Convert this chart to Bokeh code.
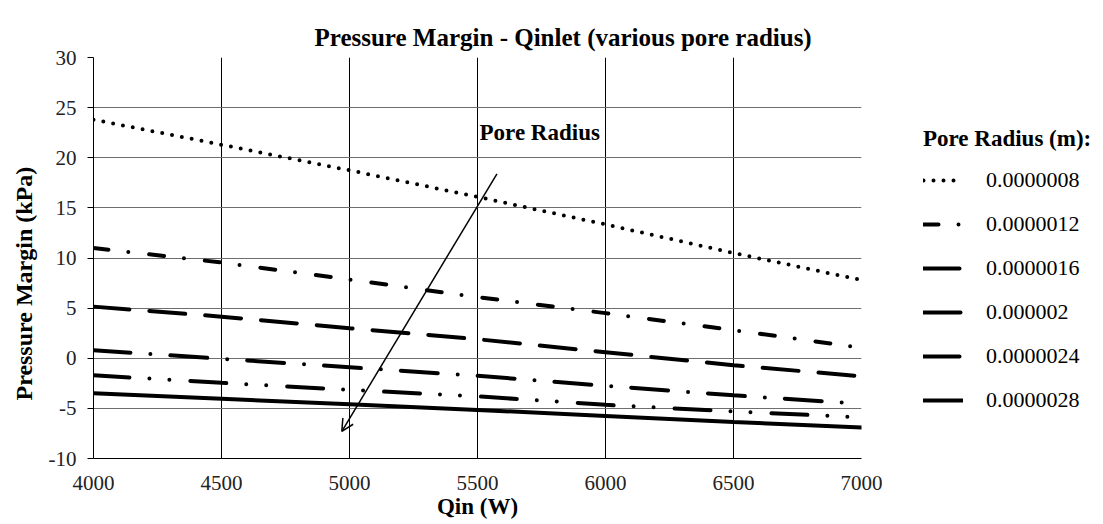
from bokeh.plotting import figure
from bokeh.layouts import row
from bokeh.models import (FixedTicker, Legend, LegendItem, Arrow, OpenHead, Label, Range1d,
                          PrintfTickFormatter, Title)
from bokeh.embed import file_html
from bokeh.resources import INLINE

qin = [4000, 4500, 5000, 5500, 6000, 6500, 7000]
r_0000008 = [23.8, 21.3, 18.75, 16.1, 13.35, 10.5, 7.8]
r_0000012 = [11.0, 9.55, 7.85, 6.1, 4.5, 2.8, 1.05]
r_0000016 = [5.15, 4.15, 3.0, 1.9, 0.6, -0.7, -1.8]
r_000002 = [0.8, -0.05, -0.9, -1.75, -2.75, -3.7, -4.55]
r_0000024 = [-1.7, -2.45, -3.15, -3.8, -4.65, -5.3, -5.9]
r_0000028 = [-3.5, -4.05, -4.6, -5.15, -5.75, -6.35, -6.9]
labels = ["0.0000008", "0.0000012", "0.0000016", "0.000002", "0.0000024", "0.0000028"]
x_ticks = [4000, 4500, 5000, 5500, 6000, 6500, 7000]
y_ticks = [-10, -5, 0, 5, 10, 15, 20, 25, 30]

SERIF = "Liberation Serif"

p = figure(width=885, height=524, output_backend="svg", toolbar_location=None,
           x_range=Range1d(4000, 7000), y_range=Range1d(-10, 30),
           min_border_left=92, min_border_right=24, min_border_top=57, min_border_bottom=66,
           title="Pressure Margin - Qinlet (various pore radius)")
p.outline_line_color = None
p.background_fill_color = "white"
p.border_fill_color = "white"

p.title.text_font = SERIF
p.title.text_font_size = "25px"
p.title.text_font_style = "bold"
p.title.text_color = "black"
p.title.align = "left"
p.title.offset = 221
p.title.standoff = 14

# grids
p.xgrid.ticker = FixedTicker(ticks=x_ticks)
p.ygrid.ticker = FixedTicker(ticks=y_ticks)
p.xgrid.grid_line_color = "black"
p.xgrid.grid_line_width = 1
p.ygrid.grid_line_color = "#6e6e6e"
p.ygrid.grid_line_width = 1

# axes
p.xaxis.ticker = FixedTicker(ticks=x_ticks)
p.yaxis.ticker = FixedTicker(ticks=y_ticks)
p.yaxis.formatter = PrintfTickFormatter(format="%d")
p.xaxis.formatter = PrintfTickFormatter(format="%d")
for ax in (p.xaxis[0], p.yaxis[0]):
    ax.axis_line_color = "black"
    ax.major_tick_line_color = "black"
    ax.minor_tick_line_color = None
    ax.major_label_text_font = SERIF
    ax.major_label_text_font_size = "21px"
    ax.major_label_text_color = "#222222"
    ax.axis_label_text_font = SERIF
    ax.axis_label_text_font_size = "23px"
    ax.axis_label_text_font_style = "bold"
    ax.axis_label_text_color = "black"
p.xaxis.major_tick_out = 0
p.xaxis.major_tick_in = 0
p.xaxis.major_label_standoff = 17
p.xaxis.axis_label = "Qin (W)"
p.xaxis.axis_label_standoff = 1
p.yaxis.major_tick_out = 6
p.yaxis.major_tick_in = 0
p.yaxis.major_label_standoff = 11

ytitle = Title(text="Pressure Margin (kPa)", align="left", offset=58,
               text_font=SERIF, text_font_size="24px", text_font_style="bold",
               text_color="black", standoff=17)
p.add_layout(ytitle, "left")

series = [r_0000008, r_0000012, r_0000016, r_000002, r_0000024, r_0000028]
dashes = ["0 10", "15 20 0 21", "36 20", "37 20 0 20", "36 20 0 20 0 21", "solid"]
for ys, d in zip(series, dashes):
    p.line(qin, ys, line_color="black", line_width=4, line_dash=d, line_cap="round")

arrow = Arrow(x_start=5576, y_start=18.4, x_end=4970, y_end=-7.3,
              line_color="black", line_width=1.5,
              end=OpenHead(size=12, line_color="black", line_width=1.5))
p.add_layout(arrow)

lab = Label(x=5508, y=22.5, text="Pore Radius", text_font=SERIF, text_font_size="23px",
            text_font_style="bold", text_color="black", text_baseline="middle", text_align="left")
p.add_layout(lab)

# legend panel (second figure to the right of the chart); its lines sit outside
# its visible range and only serve as legend samples
q = figure(width=218, height=524, output_backend="svg", toolbar_location=None,
           x_range=Range1d(0, 218), y_range=Range1d(0, 524),
           min_border=0, min_border_left=0, min_border_right=0, min_border_top=0,
           min_border_bottom=0)
q.axis.visible = False
q.grid.visible = False
q.outline_line_color = None
q.background_fill_color = "white"
q.border_fill_color = "white"
leg_renderers = []
for d in dashes:
    leg_renderers.append(q.line(x=[-50, -40], y=[-50, -50], line_color="black", line_width=4,
                                line_dash=d, line_cap="round"))
items = [LegendItem(label=l, renderers=[r]) for l, r in zip(labels, leg_renderers)]
legend = Legend(items=items, location=(38, 36), title="Pore Radius (m):",
                title_text_font=SERIF, title_text_font_size="23px", title_text_font_style="bold",
                title_text_color="black", title_standoff=6,
                label_text_font=SERIF, label_text_font_size="22px", label_text_color="black",
                glyph_width=40, glyph_height=44, label_height=44, label_standoff=23,
                spacing=0, padding=0, margin=0, border_line_color=None,
                background_fill_alpha=0)
q.add_layout(legend, "center")

layout = row(p, q, spacing=0)
open("out.html", "w").write(file_html(layout, INLINE))
